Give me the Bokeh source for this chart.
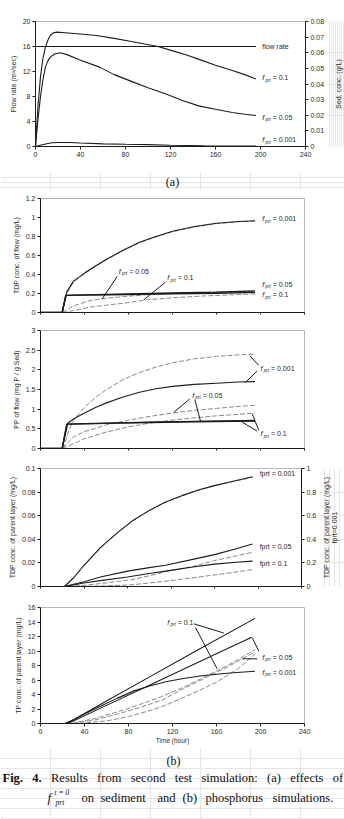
import math

from bokeh.core.properties import value
from bokeh.embed import file_html
from bokeh.layouts import column, row
from bokeh.models import CustomJSTickFormatter, FixedTicker, LinearAxis, Range1d
from bokeh.plotting import figure
from bokeh.resources import INLINE

SANS = "Liberation Sans"
SERIF = "Liberation Serif"
INK = "#1c1c1c"
LABEL_INK = "#2a2a2a"
DASH_GREY = "#8a8a8a"
FRAME_GREY = "#b8b8b8"
PAGE_W = 344

# ---------------------------------------------------------------- tick labels
HOUR_TICKS = [0, 40, 80, 120, 160, 200, 240]
HOUR_LABELS = ["0", "40", "80", "120", "160", "200", "240"]
FLOW_TICKS = [0, 4, 8, 12, 16, 20]
FLOW_LABELS = ["0", "4", "8", "12", "16", "20"]
SED_TICKS = [0, 0.01, 0.02, 0.03, 0.04, 0.05, 0.06, 0.07, 0.08]
SED_LABELS = ["0", "0.01", "0.02", "0.03", "0.04", "0.05", "0.06", "0.07", "0.08"]
TDP_FLOW_TICKS = [0, 0.2, 0.4, 0.6, 0.8, 1.0, 1.2]
TDP_FLOW_LABELS = ["0", "0.2", "0.4", "0.6", "0.8", "1", "1.2"]
PP_TICKS = [0, 0.5, 1.0, 1.5, 2.0, 2.5, 3.0]
PP_LABELS = ["0", "0.5", "1", "1.5", "2", "2.5", "3"]
TDP_LAYER_TICKS = [0, 0.02, 0.04, 0.06, 0.08, 0.1]
TDP_LAYER_LABELS = ["0", "0.02", "0.04", "0.06", "0.08", "0.1"]
TDP_LAYER_R_TICKS = [0, 0.2, 0.4, 0.6, 0.8, 1.0]
TDP_LAYER_R_LABELS = ["0", "0.2", "0.4", "0.6", "0.8", "1"]
TP_TICKS = [0, 2, 4, 6, 8, 10, 12, 14, 16]
TP_LABELS = ["0", "2", "4", "6", "8", "10", "12", "14", "16"]

# ---------------------------------------------------------------- (a) sediment
flow_hr = [0, 196]
flow_rate = [16, 16]

sed01_hr = [0, 2, 4.4, 6.5, 8.8, 11, 13.2, 16, 19, 26, 40, 54, 70, 84, 97, 109,
            122, 135, 146, 160, 175, 186, 196]
sed01 = [0.0, 0.024, 0.0444, 0.056, 0.0636, 0.068, 0.0712, 0.0728, 0.0732, 0.0728,
         0.072, 0.071, 0.0692, 0.0674, 0.0656, 0.064, 0.0612, 0.0584, 0.0556, 0.052,
         0.0486, 0.046, 0.0432]

sed005_hr = [0, 2, 4.4, 6.5, 8.8, 11, 13.2, 17, 22, 28, 40, 57, 70, 87, 100, 116,
             130, 145, 160, 175, 186, 196]
sed005 = [0.0, 0.016, 0.0316, 0.0424, 0.0508, 0.0548, 0.0572, 0.0592, 0.06, 0.0588,
          0.0552, 0.0508, 0.046, 0.0412, 0.0376, 0.0336, 0.0296, 0.026, 0.0238,
          0.0218, 0.0206, 0.0198]

sed0001_hr = [0, 5, 10, 15, 20, 30, 40, 60, 80, 100, 120, 150, 196]
sed0001 = [0.0, 0.001, 0.0018, 0.0024, 0.0026, 0.0026, 0.0022, 0.00168, 0.0014,
           0.0012, 0.0008, 0.00048, 0.00032]

# ---------------------------------------------------------------- (b1) TDP of flow
tdpf_s0001_hr = [0, 19.7, 24, 30, 40, 50, 60, 75, 90, 105, 120, 140, 160, 180, 195]
tdpf_s0001 = [0, 0, 0.22, 0.33, 0.415, 0.49, 0.56, 0.655, 0.74, 0.80, 0.855, 0.905,
              0.94, 0.958, 0.965]
tdpf_d0001 = [0, 0, 0.2, 0.32, 0.408, 0.485, 0.556, 0.65, 0.735, 0.797, 0.85, 0.9,
              0.935, 0.955, 0.962]
tdpf_s_hr = [0, 19.7, 23, 40, 80, 120, 160, 195]
tdpf_s005 = [0, 0, 0.18, 0.185, 0.195, 0.205, 0.215, 0.228]
tdpf_s01 = [0, 0, 0.18, 0.183, 0.19, 0.197, 0.203, 0.212]
tdpf_d005_hr = [19.7, 30, 45, 60, 76, 100, 130, 160, 195]
tdpf_d005 = [0, 0.07, 0.126, 0.15, 0.168, 0.19, 0.205, 0.215, 0.225]
tdpf_d01_hr = [20, 30, 45, 60, 76, 97, 120, 150, 175, 195]
tdpf_d01 = [0, 0.02, 0.056, 0.078, 0.098, 0.134, 0.155, 0.175, 0.187, 0.195]

# ---------------------------------------------------------------- (b2) PP of flow
pp_s0001_hr = [0, 19.7, 25, 30, 40, 50, 60, 75, 90, 105, 120, 140, 160, 180, 195]
pp_s0001 = [0, 0, 0.65, 0.75, 0.9, 1.04, 1.16, 1.31, 1.43, 1.52, 1.58, 1.63, 1.66,
            1.69, 1.7]
pp_d0001_hr = [20, 22, 25, 30, 40, 50, 60, 75, 90, 105, 120, 140, 160, 180, 195]
pp_d0001 = [0, 0.1, 0.4, 0.72, 1.05, 1.3, 1.5, 1.75, 1.93, 2.07, 2.18, 2.28, 2.34,
            2.38, 2.4]
pp_s_hr = [0, 19.7, 24, 60, 100, 140, 195]
pp_s005 = [0, 0, 0.62, 0.645, 0.67, 0.69, 0.71]
pp_s01 = [0, 0, 0.62, 0.64, 0.66, 0.68, 0.695]
pp_d005_hr = [20, 25, 30, 40, 60, 80, 100, 120, 140, 160, 180, 195]
pp_d005 = [0, 0.15, 0.3, 0.43, 0.6, 0.72, 0.82, 0.9, 0.97, 1.02, 1.07, 1.1]
pp_d01_hr = [20, 30, 40, 60, 80, 100, 120, 140, 160, 180, 195]
pp_d01 = [0, 0.12, 0.25, 0.42, 0.55, 0.65, 0.72, 0.78, 0.83, 0.87, 0.9]

# ---------------------------------------------------------------- (b3) TDP of parent layer
tdpl_0001_hr = [0, 22, 30, 40, 55, 70, 85, 100, 115, 130, 145, 160, 175, 195]
tdpl_s0001 = [0, 0, 0.07, 0.18, 0.33, 0.45, 0.56, 0.645, 0.717, 0.77, 0.817, 0.855,
              0.888, 0.93]
tdpl_d0001 = [0, 0, 0.065, 0.175, 0.325, 0.448, 0.558, 0.642, 0.714, 0.768, 0.815,
              0.853, 0.885, 0.925]
tdpl_s_hr = [0, 22, 40, 55, 80, 100, 115, 140, 160, 180, 195]
tdpl_s005 = [0, 0, 0.004, 0.008, 0.013, 0.016, 0.018, 0.023, 0.027, 0.032, 0.036]
tdpl_s01 = [0, 0, 0.003, 0.005, 0.008, 0.011, 0.013, 0.0165, 0.019, 0.0205, 0.0215]
tdpl_d005_hr = [25, 40, 60, 85, 100, 115, 140, 160, 180, 195]
tdpl_d005 = [0, 0.001, 0.003, 0.006, 0.009, 0.0125, 0.017, 0.022, 0.026, 0.029]
tdpl_d01_hr = [30, 60, 85, 100, 120, 145, 170, 195]
tdpl_d01 = [0, 0.0005, 0.0015, 0.003, 0.005, 0.008, 0.011, 0.0143]

# ---------------------------------------------------------------- (b4) TP of parent layer
tp_s01_hr = [0, 24, 60, 100, 140, 195]
tp_s01 = [0, 0, 3.1, 6.5, 9.9, 14.5]
tp_s005_hr = [0, 25, 60, 100, 140, 192]
tp_s005 = [0, 0, 2.5, 5.35, 8.2, 11.9]
tp_s0001_hr = [0, 22, 30, 40, 55, 70, 85, 100, 115, 130, 145, 160, 175, 195]
tp_s0001 = [0, 0, 0.5, 1.3, 2.4, 3.5, 4.5, 5.2, 5.8, 6.2, 6.55, 6.8, 7.0, 7.2]
tp_d1_hr = [28, 50, 70, 90, 110, 130, 150, 170, 195]
tp_d1 = [0, 0.7, 1.6, 2.6, 3.7, 5.0, 6.5, 8.0, 10.2]
tp_d2_hr = [30, 50, 70, 90, 110, 130, 150, 170, 195]
tp_d2 = [0, 0.5, 1.3, 2.2, 3.2, 4.8, 6.3, 7.8, 9.9]
tp_d3_hr = [35, 60, 80, 100, 115, 130, 145, 160, 180, 195]
tp_d3 = [0, 0.35, 0.95, 1.8, 2.6, 3.6, 4.6, 5.7, 7.6, 9.6]


# ---------------------------------------------------------------- helpers
def base_fig(height, top, bottom, left, right, y_lo, y_hi, width=PAGE_W):
    p = figure(width=width, height=height, x_range=Range1d(0, 240),
               y_range=Range1d(y_lo, y_hi), output_backend="svg",
               toolbar_location=None, min_border_top=top,
               min_border_bottom=bottom, min_border_left=left,
               min_border_right=right)
    p.xgrid.visible = False
    p.ygrid.visible = False
    p.outline_line_color = FRAME_GREY
    p.background_fill_color = "white"
    p.border_fill_color = "white"
    return p


def style_axis(ax, ticks, labels, title="", font="7px"):
    ax.ticker = FixedTicker(ticks=ticks)
    ax.formatter = CustomJSTickFormatter(args=dict(labels=labels),
                                         code="return labels[index]")
    ax.minor_tick_line_color = None
    ax.major_tick_in = 0
    ax.major_tick_out = 3
    ax.axis_line_color = INK
    ax.major_tick_line_color = INK
    ax.major_label_text_font = SANS
    ax.major_label_text_font_size = font
    ax.major_label_text_color = LABEL_INK
    ax.major_label_standoff = 2
    ax.axis_label = title
    ax.axis_label_text_font = SANS
    ax.axis_label_text_font_size = "7px"
    ax.axis_label_text_font_style = "normal"
    ax.axis_label_text_color = LABEL_INK
    ax.axis_label_standoff = 3


def bare_hour_axis(ax):
    style_axis(ax, HOUR_TICKS, [""] * len(HOUR_TICKS), font="1px")
    ax.major_tick_out = 2
    ax.major_label_standoff = 0


def side_strip(width, height, top, bottom, y_lo, y_hi, xs, texts):
    # a narrow companion plot holding right-hand titles that read bottom-to-top
    p = figure(width=width, height=height, x_range=Range1d(0, width),
               y_range=Range1d(y_lo, y_hi), output_backend="svg",
               toolbar_location=None, min_border_top=top,
               min_border_bottom=bottom, min_border_left=0, min_border_right=0,
               x_axis_location=None, y_axis_location=None)
    p.outline_line_color = None
    p.background_fill_color = "white"
    p.border_fill_color = "white"
    mid = (y_lo + y_hi) / 2
    p.text(x=xs, y=[mid] * len(xs), text=texts, angle=math.pi / 2,
           text_font=value(SANS), text_font_size="7px", text_color=LABEL_INK,
           text_align="center", text_baseline="middle")
    return p


def solid(p, xs, ys, width=1.1, **kw):
    p.line(xs, ys, line_color=INK, line_width=width, **kw)


def dashed(p, xs, ys, **kw):
    p.line(xs, ys, line_color=DASH_GREY, line_width=1, line_dash="5 2", **kw)


def f_labels(p, xs, ys, tails):
    n = len(xs)
    p.text(x=xs, y=ys, text=["f"] * n, text_font=value(SANS),
           text_font_style="italic", text_font_size="7.5px",
           text_color=LABEL_INK, text_baseline="middle", text_align="left")
    p.text(x=xs, y=ys, text=["prt"] * n, x_offset=3.2, y_offset=2.4,
           text_font=value(SANS), text_font_style="italic",
           text_font_size="4.5px", text_color=LABEL_INK,
           text_baseline="middle", text_align="left")
    p.text(x=xs, y=ys, text=tails, x_offset=10.5, text_font=value(SANS),
           text_font_size="7px", text_color=LABEL_INK, text_baseline="middle",
           text_align="left")


def plain_labels(p, xs, ys, texts, **kw):
    p.text(x=xs, y=ys, text=texts, text_font=value(SANS), text_font_size="7px",
           text_color=LABEL_INK, text_baseline="middle", text_align="left", **kw)


def leaders(p, x0, y0, x1, y1):
    p.segment(x0=x0, y0=y0, x1=x1, y1=y1, line_color=INK, line_width=1)


def text_strip(height):
    p = figure(width=PAGE_W, height=height, x_range=Range1d(0, PAGE_W),
               y_range=Range1d(height, 0), output_backend="svg",
               toolbar_location=None, min_border=0,
               x_axis_location=None, y_axis_location=None)
    p.outline_line_color = None
    p.background_fill_color = "white"
    p.border_fill_color = "white"
    return p


def serif_words(p, xs, y, words, size="12.5px", style="normal", align="left"):
    p.text(x=xs, y=[y] * len(xs), text=words, text_font=value(SERIF),
           text_font_size=size, text_font_style=style, text_color="#111111",
           text_baseline="middle", text_align=align)


# ---------------------------------------------------------------- (a) flow & sediment
pa = base_fig(172, 21, 26, 35, 20, 0, 20, width=327)
pa.extra_y_ranges = {"sed": Range1d(0, 0.08)}
style_axis(pa.xaxis[0], HOUR_TICKS, HOUR_LABELS)
style_axis(pa.yaxis[0], FLOW_TICKS, FLOW_LABELS, "Flow rate (m³/sec)")
sed_axis = LinearAxis(y_range_name="sed")
style_axis(sed_axis, SED_TICKS, SED_LABELS)
pa.add_layout(sed_axis, "right")
strip_a = side_strip(17, 172, 21, 26, 0, 20, [10.5], ["Sed. conc. (g/L)"])

solid(pa, flow_hr, flow_rate, width=1.2)
solid(pa, sed01_hr, sed01, y_range_name="sed")
solid(pa, sed005_hr, sed005, y_range_name="sed")
solid(pa, sed0001_hr, sed0001, y_range_name="sed")
plain_labels(pa, [201.5], [16.0], ["flow rate"])
f_labels(pa, [201.5, 201.5, 201.5], [11.0, 4.7, 1.07],
         ["= 0.1", "= 0.05", "= 0.001"])

cap_a = text_strip(18)
serif_words(cap_a, [172], 9, ["(a)"], size="12px", align="center")

# ---------------------------------------------------------------- (b1)
pb1 = base_fig(132, 8, 10, 40, 40, 0, 1.2)
bare_hour_axis(pb1.xaxis[0])
style_axis(pb1.yaxis[0], TDP_FLOW_TICKS, TDP_FLOW_LABELS, "TDP conc. of flow (mg/L)")
dashed(pb1, tdpf_s0001_hr, tdpf_d0001)
solid(pb1, tdpf_s0001_hr, tdpf_s0001)
dashed(pb1, tdpf_d005_hr, tdpf_d005)
dashed(pb1, tdpf_d01_hr, tdpf_d01)
solid(pb1, tdpf_s_hr, tdpf_s005, width=1.4)
solid(pb1, tdpf_s_hr, tdpf_s01, width=1.4)
f_labels(pb1, [201.5, 201.5, 201.5, 71.2, 115.2], [0.986, 0.30, 0.186, 0.435, 0.365],
         ["= 0.001", "= 0.05", "= 0.1", "= 0.05", "= 0.1"])
leaders(pb1, [69.7, 113.6], [0.379, 0.319], [56.1, 93.9], [0.144, 0.134])

# ---------------------------------------------------------------- (b2)
pb2 = base_fig(136, 8, 10, 40, 40, 0, 3)
bare_hour_axis(pb2.xaxis[0])
style_axis(pb2.yaxis[0], PP_TICKS, PP_LABELS, "PP of flow (mg P / g Sed)")
dashed(pb2, pp_d0001_hr, pp_d0001)
dashed(pb2, pp_d005_hr, pp_d005)
dashed(pb2, pp_d01_hr, pp_d01)
solid(pb2, pp_s0001_hr, pp_s0001)
solid(pb2, pp_s_hr, pp_s005, width=1.4)
solid(pb2, pp_s_hr, pp_s01, width=1.4)
f_labels(pb2, [200, 137.9, 200], [2.04, 1.35, 0.37], ["= 0.001", "= 0.05", "= 0.1"])
leaders(pb2,
        [190.3, 186.4, 135.7, 140.3, 192.5, 183.4],
        [2.36, 1.68, 1.26, 1.24, 0.88, 0.67],
        [198.5, 197.0, 121.2, 145.5, 198.5, 197.0],
        [2.11, 1.97, 0.92, 0.69, 0.46, 0.44])

# ---------------------------------------------------------------- (b3)
pb3 = base_fig(138, 10, 10, 40, 15, 0, 0.1, width=319)
pb3.extra_y_ranges = {"r": Range1d(0, 1)}
bare_hour_axis(pb3.xaxis[0])
style_axis(pb3.yaxis[0], TDP_LAYER_TICKS, TDP_LAYER_LABELS,
           "TDP conc. of parent layer (mg/L)")
r_axis = LinearAxis(y_range_name="r")
style_axis(r_axis, TDP_LAYER_R_TICKS, TDP_LAYER_R_LABELS)
pb3.add_layout(r_axis, "right")
strip_b3 = side_strip(25, 138, 10, 10, 0, 0.1, [6.5, 14.5],
                      ["TDP conc. of parent layer (mg/L)", "fprt=0.001"])
dashed(pb3, tdpl_0001_hr, tdpl_d0001, y_range_name="r")
solid(pb3, tdpl_0001_hr, tdpl_s0001, y_range_name="r")
dashed(pb3, tdpl_d005_hr, tdpl_d005)
dashed(pb3, tdpl_d01_hr, tdpl_d01)
solid(pb3, tdpl_s_hr, tdpl_s005)
solid(pb3, tdpl_s_hr, tdpl_s01)
plain_labels(pb3, [201.5, 201.5, 201.5], [0.0959, 0.0343, 0.0193],
             ["fprt = 0.001", "fprt = 0.05", "fprt = 0.1"])

# ---------------------------------------------------------------- (b4)
pb4 = base_fig(152, 11, 25, 40, 40, 0, 16)
style_axis(pb4.xaxis[0], HOUR_TICKS, HOUR_LABELS, "Time (hour)")
pb4.xaxis[0].axis_label_text_font_size = "6.5px"
pb4.xaxis[0].axis_label_standoff = 0
style_axis(pb4.yaxis[0], TP_TICKS, TP_LABELS, "TP conc. of parent layer (mg/L)")
dashed(pb4, tp_d1_hr, tp_d1)
dashed(pb4, tp_d2_hr, tp_d2)
dashed(pb4, tp_d3_hr, tp_d3)
solid(pb4, tp_s01_hr, tp_s01)
solid(pb4, tp_s005_hr, tp_s005)
solid(pb4, tp_s0001_hr, tp_s0001)
f_labels(pb4, [115.2, 201.5, 201.5], [13.97, 9.14, 7.08], ["= 0.1", "= 0.05", "= 0.001"])
leaders(pb4,
        [139.4, 140.9, 192.5, 183.4],
        [13.75, 13.24, 11.82, 8.92],
        [166.6, 160.6, 198.5, 197.0],
        [12.48, 7.54, 9.97, 8.92])

# ---------------------------------------------------------------- caption
cap_b = text_strip(71)
serif_words(cap_b, [173], 12, ["(b)"], size="12px", align="center")
serif_words(cap_b, [2, 31.8], 29, ["Fig.", "4."], style="bold")
serif_words(cap_b, [50.5, 96.6, 130.2, 174.2, 200.9, 266.5, 289.7, 332.3], 29,
            ["Results", "from", "second", "test", "simulation:", "(a)", "effects", "of"])
serif_words(cap_b, [47], 49, ["f"], size="13px", style="italic")
serif_words(cap_b, [54], 44, ["t = 0"], size="7.5px", style="italic")
serif_words(cap_b, [55], 54, ["prt"], size="7.5px", style="italic")
serif_words(cap_b, [81, 100, 157, 182, 205, 272], 49,
            ["on", "sediment", "and", "(b)", "phosphorus", "simulations."])

# each panel sits in its own row so that the frames keep their own borders
page = column(row(pa, strip_a, spacing=0), row(cap_a), row(pb1), row(pb2),
              row(pb3, strip_b3, spacing=0), row(pb4), row(cap_b), spacing=0)
open("out.html", "w").write(file_html(page, INLINE))
